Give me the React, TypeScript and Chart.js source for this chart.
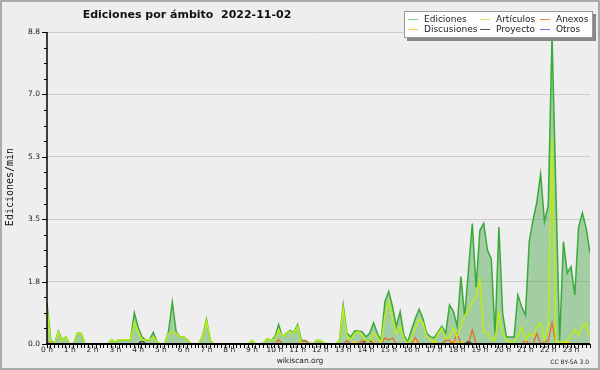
import React, { useEffect, useRef } from "react";
import { Chart, registerables } from "chart.js";

Chart.register(...registerables);

const TITLE = "Ediciones por ámbito  2022-11-02";
const Y_TITLE = "Ediciones/min";
const SLOTS_PER_HOUR = 6;
const Y_MAX = 8.8;
const Y_STEP = 0.44;
const yTickLabels = ["0.0", "1.8", "3.5", "5.3", "7.0", "8.8"];
const seriesNames = ["Ediciones", "Artículos", "Anexos", "Discusiones", "Proyecto", "Otros"];

// one row per hour, 10-minute slots
const ediciones = [
  1.15, 0.1, 0, 0.37, 0.12, 0.2,
  0, 0, 0.3, 0.3, 0, 0,
  0, 0, 0, 0, 0, 0.12,
  0.05, 0.12, 0.12, 0.12, 0.12, 0.88,
  0.48, 0.2, 0.12, 0.12, 0.33, 0.05,
  0, 0, 0.35, 1.18, 0.35, 0.2,
  0.2, 0.12, 0, 0, 0, 0.25,
  0.7, 0.1, 0, 0, 0, 0,
  0, 0, 0, 0, 0, 0,
  0.1, 0, 0, 0.02, 0.15, 0.1,
  0.2, 0.55, 0.2, 0.3, 0.38, 0.32,
  0.55, 0.1, 0.1, 0.03, 0, 0.1,
  0.1, 0.02, 0, 0, 0, 0.1,
  1.1, 0.3, 0.2, 0.37, 0.37, 0.35,
  0.2, 0.3, 0.6, 0.3, 0.1, 1.2,
  1.48, 1.05, 0.5, 0.91, 0.25, 0.05,
  0.4, 0.72, 0.98, 0.72, 0.3, 0.2,
  0.18, 0.35, 0.5, 0.3, 1.1, 0.93,
  0.5, 1.9, 0.77, 2.1, 3.4, 1.6,
  3.2, 3.4, 2.65, 2.4, 0.25, 3.3,
  0.86, 0.2, 0.2, 0.2, 1.38, 1.05,
  0.82, 2.89, 3.5, 4.0, 4.8, 3.45,
  3.9, 8.7, 4.4, 0.1, 2.89, 2.0,
  2.18, 1.38, 3.3, 3.7, 3.26, 2.56,
];

const articulos = [
  1.0, 0.05, 0, 0.35, 0.1, 0.2,
  0, 0, 0.3, 0.3, 0, 0,
  0, 0, 0, 0, 0, 0.12,
  0.05, 0.12, 0.12, 0.12, 0.12, 0.6,
  0.35, 0.1, 0.12, 0.12, 0.2, 0.05,
  0, 0, 0.3, 0.35, 0.3, 0.2,
  0.2, 0.12, 0, 0, 0, 0.25,
  0.65, 0.1, 0, 0, 0, 0,
  0, 0, 0, 0, 0, 0,
  0.1, 0, 0, 0.02, 0.15, 0.1,
  0.15, 0.4, 0.2, 0.3, 0.35, 0.3,
  0.5, 0, 0, 0.03, 0, 0.1,
  0.1, 0.02, 0, 0, 0, 0.1,
  1.0, 0.2, 0.12, 0.3, 0.35, 0.25,
  0.1, 0.1, 0.3, 0.2, 0.05, 0.8,
  1.2, 0.7, 0.3, 0.5, 0.15, 0.02,
  0.2, 0.45, 0.7, 0.6, 0.21, 0.12,
  0.05, 0.3, 0.45, 0.15, 0.2, 0.45,
  0.2, 0.5, 0.8, 0.95, 1.2, 1.3,
  1.8, 0.35, 0.31, 0.12, 0.12, 0.88,
  0.31, 0.12, 0.05, 0.05, 0.21, 0.49,
  0.1, 0.3, 0.21, 0.49, 0.6, 0.12,
  0.49, 5.8, 0.05, 0.05, 0.05, 0.1,
  0.25, 0.4, 0.25, 0.5, 0.57, 0.2,
];

const anexos = [
  0.07, 0, 0, 0, 0, 0,
  0, 0, 0, 0, 0, 0,
  0, 0, 0, 0, 0, 0,
  0, 0, 0, 0, 0, 0,
  0, 0, 0, 0, 0, 0,
  0, 0, 0, 0, 0, 0,
  0, 0, 0, 0, 0, 0,
  0, 0, 0, 0, 0, 0,
  0, 0, 0, 0, 0, 0,
  0, 0, 0, 0, 0, 0,
  0, 0.12, 0, 0, 0, 0,
  0, 0.05, 0.1, 0, 0, 0,
  0, 0, 0, 0, 0, 0,
  0, 0.1, 0, 0, 0, 0.1,
  0, 0, 0, 0, 0, 0.17,
  0.12, 0.17, 0, 0, 0, 0,
  0, 0.18, 0, 0, 0, 0,
  0, 0, 0, 0.1, 0.1, 0,
  0.3, 0, 0, 0, 0.4, 0,
  0, 0, 0, 0, 0, 0,
  0, 0, 0, 0, 0, 0,
  0.1, 0, 0, 0.3, 0, 0.05,
  0.1, 0.6, 0, 0, 0, 0,
  0, 0, 0, 0, 0, 0,
];

const discusiones = [
  0, 0, 0, 0, 0, 0,
  0, 0, 0, 0, 0, 0,
  0, 0, 0, 0, 0, 0,
  0, 0, 0, 0, 0, 0,
  0, 0, 0, 0, 0, 0,
  0, 0, 0, 0, 0, 0,
  0, 0, 0, 0, 0, 0,
  0, 0, 0, 0, 0, 0,
  0, 0, 0, 0, 0, 0,
  0, 0, 0, 0, 0, 0,
  0, 0, 0, 0, 0, 0,
  0, 0.08, 0, 0, 0, 0,
  0, 0, 0, 0, 0, 0,
  0, 0, 0, 0.08, 0, 0,
  0, 0, 0.1, 0, 0, 0,
  0, 0, 0, 0, 0, 0,
  0, 0.1, 0, 0, 0, 0,
  0.08, 0, 0, 0, 0, 0.1,
  0, 0.08, 0, 0, 0, 0,
  0, 0, 0, 0, 0, 0,
  0, 0, 0, 0, 0, 0,
  0, 0, 0, 0, 0, 0,
  0, 0, 0, 0, 0, 0.08,
  0, 0, 0, 0, 0, 0,
];

const proyecto = [
  0, 0, 0, 0, 0, 0,
  0, 0, 0, 0, 0, 0,
  0, 0, 0, 0, 0, 0,
  0, 0, 0, 0, 0, 0,
  0, 0.1, 0, 0, 0, 0,
  0, 0, 0, 0, 0, 0,
  0, 0, 0, 0, 0, 0,
  0, 0, 0, 0, 0, 0,
  0, 0, 0, 0, 0, 0,
  0, 0, 0, 0, 0, 0,
  0, 0, 0, 0, 0, 0,
  0, 0, 0, 0, 0, 0,
  0, 0, 0, 0, 0, 0,
  0, 0, 0, 0, 0, 0,
  0.1, 0.1, 0, 0, 0, 0,
  0, 0, 0, 0, 0, 0,
  0, 0, 0, 0, 0, 0,
  0, 0, 0, 0, 0, 0,
  0, 0, 0, 0.08, 0, 0,
  0, 0, 0, 0, 0, 0,
  0, 0, 0, 0, 0, 0,
  0, 0, 0, 0, 0, 0,
  0, 0, 0, 0, 0, 0,
  0, 0, 0, 0, 0, 0,
];

const otros = [
  0, 0, 0, 0, 0, 0,
  0, 0, 0, 0, 0, 0,
  0, 0, 0, 0, 0, 0,
  0, 0, 0, 0, 0, 0,
  0, 0, 0, 0, 0, 0,
  0, 0, 0, 0, 0, 0,
  0, 0, 0, 0, 0, 0,
  0, 0, 0, 0, 0, 0,
  0, 0, 0, 0, 0, 0,
  0, 0, 0, 0, 0, 0,
  0, 0, 0, 0, 0, 0,
  0, 0, 0, 0, 0, 0,
  0, 0, 0, 0, 0, 0,
  0, 0, 0, 0, 0, 0,
  0, 0, 0.1, 0, 0, 0,
  0, 0, 0, 0, 0, 0,
  0, 0, 0, 0, 0, 0,
  0, 0, 0, 0, 0, 0,
  0, 0, 0, 0, 0, 0,
  0, 0, 0, 0, 0, 0,
  0, 0, 0, 0, 0, 0,
  0, 0, 0, 0, 0, 0,
  0, 0, 0, 0, 0, 0,
  0, 0, 0, 0, 0, 0,
];

const lineColors = ["#3aaa3a", "#bbee11", "#ee6622", "#ffcc22", "#333333", "#9944ee"];
const legendColors = ["#88cc88", "#ccee66", "#ee8855", "#ffcc44", "#555555", "#9955ee"];

const toPoints = (arr: number[]) => arr.map((v, i) => ({ x: i, y: v }));

export default function App() {
  const ref = useRef<HTMLCanvasElement>(null);

  useEffect(() => {
    document.body.style.margin = "0";
    const canvas = ref.current!;

    const decor = {
      id: "decor",
      beforeDraw(chart: any) {
        const ctx = chart.ctx;
        ctx.save();
        ctx.fillStyle = "#eeeeee";
        ctx.fillRect(0, 0, chart.width, chart.height);
        ctx.restore();
      },
      afterDatasetsDraw(chart: any) {
        const ctx = chart.ctx;
        const { left, right, top, bottom } = chart.chartArea;
        const ys = chart.scales.y;
        ctx.save();
        ctx.strokeStyle = "#000";
        // y tick marks
        ctx.lineWidth = 1;
        ys.ticks.forEach((t: any, i: number) => {
          const py = Math.round(ys.getPixelForValue(t.value)) + 0.5;
          const len = i % 4 === 0 ? 5 : 3;
          ctx.beginPath();
          ctx.moveTo(left - len, py);
          ctx.lineTo(left, py);
          ctx.stroke();
        });
        // axes
        ctx.lineWidth = 1.5;
        ctx.beginPath();
        ctx.moveTo(left, top);
        ctx.lineTo(left, bottom);
        ctx.stroke();
        ctx.lineWidth = 2;
        ctx.beginPath();
        ctx.moveTo(left - 1, bottom);
        ctx.lineTo(right, bottom);
        ctx.stroke();
        ctx.restore();
      },
      afterDraw(chart: any) {
        const ctx = chart.ctx;
        ctx.save();
        // title
        ctx.fillStyle = "#111";
        ctx.font = "bold 11px 'DejaVu Sans'";
        ctx.textAlign = "center";
        ctx.textBaseline = "alphabetic";
        ctx.fillText(TITLE, 187, 18);
        // y title
        ctx.save();
        ctx.translate(13, 187);
        ctx.rotate(-Math.PI / 2);
        ctx.font = "10px 'DejaVu Sans Mono'";
        ctx.textAlign = "center";
        ctx.textBaseline = "alphabetic";
        ctx.fillText(Y_TITLE, 0, 0);
        ctx.restore();
        // footer
        ctx.fillStyle = "#222";
        ctx.font = "7.5px 'DejaVu Sans'";
        ctx.textAlign = "center";
        ctx.textBaseline = "middle";
        ctx.fillText("wikiscan.org", 300, 361);
        ctx.font = "6px 'DejaVu Sans'";
        ctx.textAlign = "right";
        ctx.fillText("CC BY-SA 3.0", 589, 362);
        // legend
        ctx.fillStyle = "#888888";
        ctx.fillRect(407, 14, 189, 27);
        ctx.fillStyle = "#fdfdfd";
        ctx.fillRect(404, 11, 189, 27);
        ctx.strokeStyle = "#999999";
        ctx.lineWidth = 1;
        ctx.strokeRect(404.5, 11.5, 188, 26);
        const cols = [408, 480, 540];
        const rows = [19.5, 29.5];
        const layout = [
          [0, 0, 0], [1, 1, 0], [2, 2, 0],
          [3, 0, 1], [4, 1, 1], [5, 2, 1],
        ];
        ctx.font = "9px 'DejaVu Sans'";
        ctx.textAlign = "left";
        ctx.textBaseline = "middle";
        layout.forEach(([s, c, r]) => {
          const x = cols[c];
          const y = rows[r];
          ctx.strokeStyle = legendColors[s];
          ctx.beginPath();
          ctx.moveTo(x, y);
          ctx.lineTo(x + 10, y);
          ctx.stroke();
          ctx.fillStyle = "#222";
          ctx.fillText(seriesNames[s], x + 16, y);
        });
        // outer border
        ctx.strokeStyle = "#aaaaaa";
        ctx.lineWidth = 2;
        ctx.strokeRect(1, 1, chart.width - 2, chart.height - 2);
        ctx.restore();
      },
    };

    const allSeries = [ediciones, articulos, anexos, discusiones, proyecto, otros];
    const datasets = allSeries.map((arr, k) => ({
      label: seriesNames[k],
      data: toPoints(arr),
      borderColor: lineColors[k],
      borderWidth: k === 0 ? 1.5 : k === 1 ? 1.5 : 1.2,
      backgroundColor: k === 0 ? "rgba(70,165,70,0.45)" : "transparent",
      fill: k === 0 ? "origin" : false,
      pointRadius: 0,
      tension: 0,
      order: k === 0 ? 1 : 0,
    }));

    const chart = new Chart(canvas, {
      type: "line",
      data: { datasets },
      options: {
        responsive: false,
        animation: false,
        devicePixelRatio: 1,
        layout: { padding: { left: 0, right: 10, top: 32, bottom: 0 } },
        plugins: {
          legend: { display: false },
          title: { display: false },
          tooltip: { enabled: false },
        },
        scales: {
          x: {
            type: "linear",
            min: 0,
            max: 24 * SLOTS_PER_HOUR - 1,
            afterFit: (s: any) => {
              s.height = 26;
            },
            border: { display: false },
            grid: {
              drawOnChartArea: false,
              drawTicks: true,
              tickLength: 4,
              tickColor: "#000",
              color: "#000",
            },
            ticks: {
              stepSize: 1,
              autoSkip: false,
              maxRotation: 0,
              minRotation: 0,
              padding: -2,
              color: "#222",
              font: { family: "'DejaVu Sans'", size: 7.5 },
              callback: (v: any) =>
                Number(v) % SLOTS_PER_HOUR === 0 ? `${Number(v) / SLOTS_PER_HOUR} h` : "",
            },
          },
          y: {
            type: "linear",
            min: 0,
            max: Y_MAX,
            afterFit: (s: any) => {
              s.width = 47;
            },
            border: { display: false },
            grid: {
              drawTicks: false,
              color: (c: any) =>
                c.index % 4 === 0 && c.index > 0 ? "#cccccc" : "transparent",
              lineWidth: 1,
            },
            ticks: {
              stepSize: Y_STEP,
              autoSkip: false,
              padding: 7,
              color: "#222",
              font: { family: "'DejaVu Sans'", size: 7.5 },
              callback: (_v: any, i: number) => (i % 4 === 0 ? yTickLabels[i / 4] : ""),
            },
          },
        },
      },
      plugins: [decor],
    } as any);

    return () => chart.destroy();
  }, []);

  return (
    <div style={{ width: 600, height: 370 }}>
      <canvas ref={ref} width={600} height={370} style={{ display: "block" }} />
    </div>
  );
}
